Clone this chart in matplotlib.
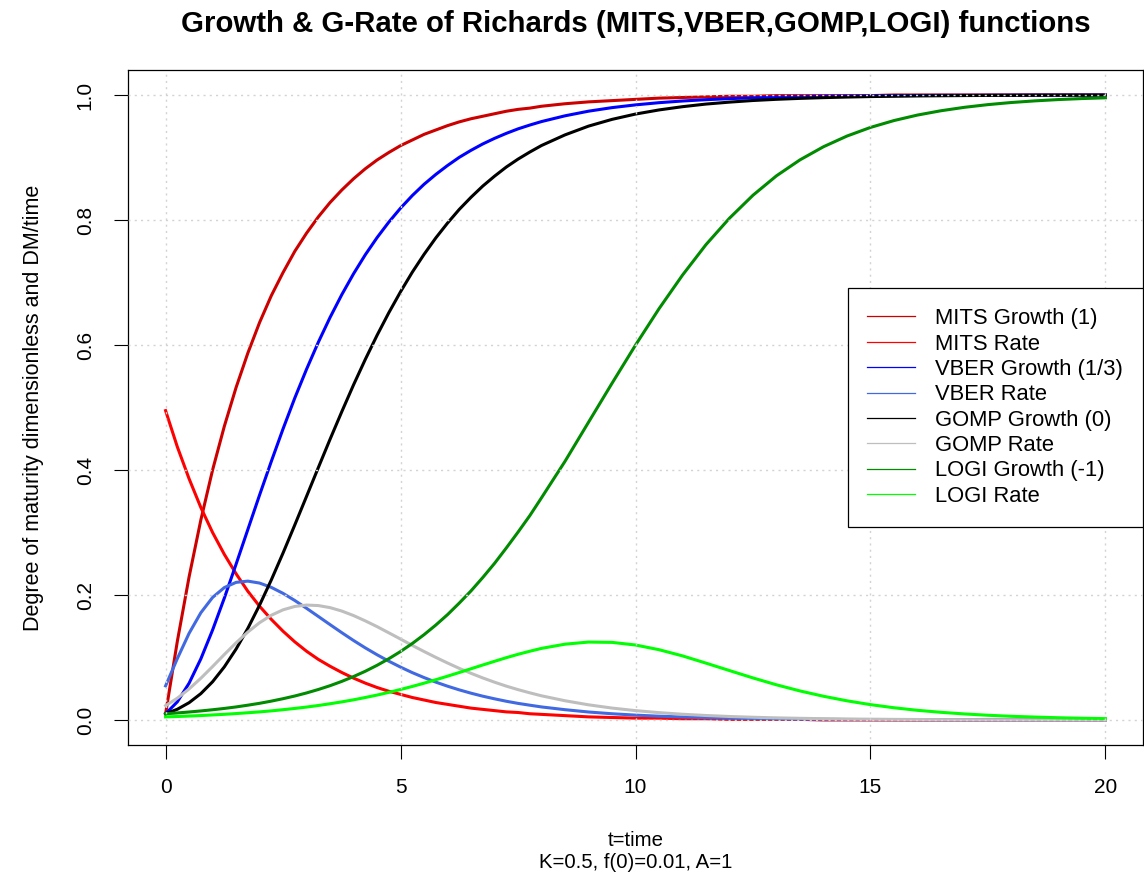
import numpy as np
import matplotlib
matplotlib.use("Agg")
import matplotlib.pyplot as plt
from matplotlib.lines import Line2D

plt.rcParams['font.family'] = ['Liberation Sans', 'DejaVu Sans']

# time grid: step 0.25 up to t=8, then 0.5 up to 20
t = [0.0, 0.25, 0.5, 0.75, 1.0, 1.25, 1.5, 1.75, 2.0, 2.25, 2.5, 2.75, 3.0,
     3.25, 3.5, 3.75, 4.0, 4.25, 4.5, 4.75, 5.0, 5.25, 5.5, 5.75, 6.0, 6.25,
     6.5, 6.75, 7.0, 7.25, 7.5, 7.75, 8.0, 8.5, 9.0, 9.5, 10.0, 10.5, 11.0,
     11.5, 12.0, 12.5, 13.0, 13.5, 14.0, 14.5, 15.0, 15.5, 16.0, 16.5, 17.0,
     17.5, 18.0, 18.5, 19.0, 19.5, 20.0]

mits_growth = [0.010, 0.126, 0.229, 0.320, 0.400, 0.470, 0.532, 0.587, 0.636,
               0.679, 0.716, 0.750, 0.779, 0.805, 0.828, 0.848, 0.866, 0.882,
               0.896, 0.908, 0.919, 0.928, 0.937, 0.944, 0.951, 0.957, 0.962,
               0.966, 0.970, 0.974, 0.977, 0.979, 0.982, 0.986, 0.989, 0.991,
               0.993, 0.995, 0.996, 0.997, 0.998, 0.998, 0.999, 0.999, 0.999,
               0.999, 0.999, 1.000, 1.000, 1.000, 1.000, 1.000, 1.000, 1.000,
               1.000, 1.000, 1.000]
mits_rate = [0.495, 0.437, 0.386, 0.340, 0.300, 0.265, 0.234, 0.206, 0.182,
             0.161, 0.142, 0.125, 0.110, 0.097, 0.086, 0.076, 0.067, 0.059,
             0.052, 0.046, 0.041, 0.036, 0.032, 0.028, 0.025, 0.022, 0.019,
             0.017, 0.015, 0.013, 0.012, 0.010, 0.009, 0.007, 0.005, 0.004,
             0.003, 0.003, 0.002, 0.002, 0.001, 0.001, 0.001, 0.001, 0.000,
             0.000, 0.000, 0.000, 0.000, 0.000, 0.000, 0.000, 0.000, 0.000,
             0.000, 0.000, 0.000]

vber_growth = [0.0100, 0.0291, 0.0589, 0.0978, 0.1440, 0.1951, 0.2493, 0.3047,
               0.3600, 0.4138, 0.4659, 0.5153, 0.5613, 0.6044, 0.6441, 0.6806,
               0.7140, 0.7444, 0.7718, 0.7966, 0.8190, 0.8391, 0.8571, 0.8729,
               0.8872, 0.9003, 0.9115, 0.9217, 0.9306, 0.9386, 0.9458, 0.9519,
               0.9575, 0.9667, 0.9741, 0.9798, 0.9842, 0.9877, 0.9904, 0.9925,
               0.9942, 0.9955, 0.9965, 0.9972, 0.9979, 0.9983, 0.9987, 0.9990,
               0.9992, 0.9994, 0.9995, 0.9996, 0.9997, 0.9998, 0.9998, 0.9999,
               0.9999]
vber_rate = [0.0546, 0.0983, 0.1387, 0.1716, 0.1961, 0.2119, 0.2202, 0.2222,
             0.2191, 0.2122, 0.2026, 0.1912, 0.1787, 0.1657, 0.1526, 0.1397,
             0.1272, 0.1154, 0.1044, 0.0941, 0.0846, 0.0758, 0.0679, 0.0606,
             0.0541, 0.0482, 0.0429, 0.0381, 0.0339, 0.0300, 0.0266, 0.0237,
             0.0209, 0.0165, 0.0128, 0.0100, 0.0078, 0.0061, 0.0048, 0.0037,
             0.0029, 0.0023, 0.0018, 0.0014, 0.0011, 0.0008, 0.0007, 0.0005,
             0.0004, 0.0003, 0.0002, 0.0002, 0.0001, 0.0001, 0.0001, 0.0001,
             0.0001]

gomp_growth = [0.0100, 0.0172, 0.0277, 0.0422, 0.0612, 0.0850, 0.1135, 0.1466,
               0.1838, 0.2242, 0.2673, 0.3122, 0.3579, 0.4038, 0.4492, 0.4934,
               0.5363, 0.5770, 0.6155, 0.6516, 0.6852, 0.7165, 0.7450, 0.7713,
               0.7951, 0.8170, 0.8364, 0.8543, 0.8701, 0.8847, 0.8974, 0.9087,
               0.9192, 0.9362, 0.9502, 0.9610, 0.9695, 0.9761, 0.9813, 0.9855,
               0.9886, 0.9912, 0.9931, 0.9946, 0.9958, 0.9967, 0.9975, 0.9980,
               0.9985, 0.9988, 0.9991, 0.9993, 0.9994, 0.9996, 0.9997, 0.9997,
               0.9998]
gomp_rate = [0.0230, 0.0349, 0.0497, 0.0668, 0.0855, 0.1048, 0.1235, 0.1407,
             0.1557, 0.1676, 0.1763, 0.1817, 0.1839, 0.1831, 0.1798, 0.1743,
             0.1671, 0.1586, 0.1494, 0.1395, 0.1295, 0.1194, 0.1096, 0.1002,
             0.0912, 0.0826, 0.0747, 0.0673, 0.0605, 0.0542, 0.0486, 0.0435,
             0.0387, 0.0308, 0.0243, 0.0191, 0.0150, 0.0118, 0.0092, 0.0072,
             0.0056, 0.0044, 0.0034, 0.0027, 0.0021, 0.0016, 0.0013, 0.0010,
             0.0008, 0.0006, 0.0005, 0.0004, 0.0003, 0.0002, 0.0002, 0.0001,
             0.0001]

logi_growth = [0.0100, 0.0113, 0.0128, 0.0145, 0.0164, 0.0185, 0.0209, 0.0237,
               0.0267, 0.0302, 0.0341, 0.0384, 0.0433, 0.0488, 0.0549, 0.0618,
               0.0695, 0.0780, 0.0875, 0.0980, 0.1096, 0.1224, 0.1365, 0.1519,
               0.1686, 0.1871, 0.2066, 0.2280, 0.2506, 0.2752, 0.3006, 0.3269,
               0.3556, 0.4139, 0.4764, 0.5387, 0.5998, 0.6580, 0.7118, 0.7606,
               0.8029, 0.8396, 0.8707, 0.8962, 0.9172, 0.9343, 0.9481, 0.9591,
               0.9679, 0.9748, 0.9803, 0.9846, 0.9880, 0.9906, 0.9927, 0.9943,
               0.9955]
logi_rate = [0.0050, 0.0056, 0.0063, 0.0071, 0.0081, 0.0091, 0.0103, 0.0116,
             0.0130, 0.0146, 0.0165, 0.0185, 0.0207, 0.0232, 0.0260, 0.0290,
             0.0323, 0.0360, 0.0399, 0.0442, 0.0488, 0.0537, 0.0589, 0.0644,
             0.0701, 0.0760, 0.0820, 0.0880, 0.0939, 0.0997, 0.1051, 0.1100,
             0.1146, 0.1213, 0.1247, 0.1242, 0.1200, 0.1125, 0.1026, 0.0910,
             0.0791, 0.0673, 0.0563, 0.0465, 0.0380, 0.0307, 0.0246, 0.0196,
             0.0155, 0.0123, 0.0097, 0.0076, 0.0059, 0.0047, 0.0036, 0.0028,
             0.0022]

labels = ["MITS Growth (1)", "MITS Rate", "VBER Growth (1/3)", "VBER Rate",
          "GOMP Growth (0)", "GOMP Rate", "LOGI Growth (-1)", "LOGI Rate"]
colors = ["#CD0000", "#FF0000", "#0000FF", "#4169E1",
          "#000000", "#BEBEBE", "#008B00", "#00FF00"]
series = [mits_growth, mits_rate, vber_growth, vber_rate,
          gomp_growth, gomp_rate, logi_growth, logi_rate]

fig = plt.figure(figsize=(11.44, 8.8), dpi=100)
ax = fig.add_axes([128 / 1144, 135 / 880, 1015 / 1144, 675 / 880])

for y, c in zip(series, colors):
    ax.plot(t, y, color=c, lw=2.2, solid_joinstyle="round", zorder=2)

ax.set_xlim(-0.8, 20.8)
ax.set_ylim(-0.04, 1.04)
ax.set_xticks([0, 5, 10, 15, 20])
ax.set_yticks([0.0, 0.2, 0.4, 0.6, 0.8, 1.0])
ax.set_yticklabels(["0.0", "0.2", "0.4", "0.6", "0.8", "1.0"],
                   rotation=90, va="center")
ax.tick_params(direction="out", length=10, width=0.8, labelsize=15,
               colors="black")
ax.tick_params(axis="x", pad=14)
ax.tick_params(axis="y", pad=14)
for s in ax.spines.values():
    s.set_linewidth(0.9)

# dotted grid drawn over the curves
ax.grid(True, color="#D3D3D3", linestyle=(0, (1.5, 3)), lw=1.0, zorder=3)
ax.set_axisbelow(False)

ax.set_title("Growth & G-Rate of Richards (MITS,VBER,GOMP,LOGI) functions",
             fontsize=21.2, fontweight="bold", pad=27)
ax.set_xlabel("t=time\nK=0.5, f(0)=0.01, A=1", fontsize=14.7, labelpad=24,
              linespacing=1.2)
ax.set_ylabel("Degree of maturity dimensionless and DM/time", fontsize=15.5,
              labelpad=23)

handles = [Line2D([], [], color=c, lw=0.9) for c in colors]
leg = ax.legend(handles, labels, loc="center right", borderaxespad=0,
                fontsize=15.8, frameon=True, fancybox=False, framealpha=1,
                edgecolor="black", handlelength=2.15, handletextpad=0.95,
                labelspacing=0.2, borderpad=0.9)
leg.get_frame().set_linewidth(0.9)
leg.set_zorder(5)

fig.savefig("out.png", dpi=100)
